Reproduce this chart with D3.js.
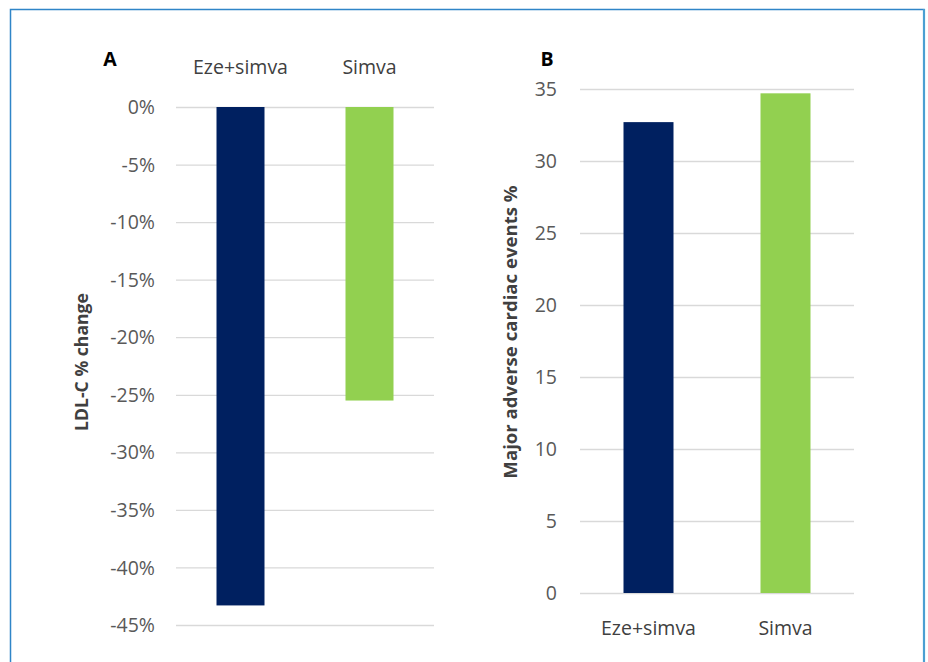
<!DOCTYPE html>
<html>
<head>
<meta charset="utf-8">
<script src="https://cdn.jsdelivr.net/npm/d3@7"></script>
<style>
  html, body { margin: 0; padding: 0; background: #fff; }
  svg text { font-family: "Open Sans", "Lato", sans-serif; }
</style>
</head>
<body>
<svg id="chart" width="928" height="662"></svg>
<script>
// Treatment groups
const categories = ["Eze+simva", "Simva"];
const barColors = ["#002060", "#92D050"];

// Panel A: LDL-C percent change from baseline
const ldlChange = [-43.3, -25.5];
const ldlTicks = [0, -5, -10, -15, -20, -25, -30, -35, -40, -45];

// Panel B: major adverse cardiac events (%)
const maceRate = [32.7, 34.7];
const maceTicks = [0, 5, 10, 15, 20, 25, 30, 35];

const svg = d3.select("#chart");
const textColor = "#595959";
const titleColor = "#404040";
const gridColor = "#d9d9d9";
const tickSize = 19.5;
const catSize = 19.5;

// frame around both panels
svg.append("path")
  .attr("d", "M10.5,662 V9.5 H924 V662")
  .attr("fill", "none")
  .attr("stroke", "#2f85c8")
  .attr("stroke-width", 1.5);
svg.append("line")
  .attr("x1", 924).attr("x2", 924).attr("y1", 9).attr("y2", 662)
  .attr("stroke", "#4a9fd2").attr("stroke-width", 2.2);

// ---------- Panel A ----------
const xA = d3.scaleBand().domain(categories).range([176, 434]);
const yA = d3.scaleLinear().domain([-45, 0]).range([625, 107]);
const barWA = 48;

const gA = svg.append("g");
gA.append("g")
  .attr("transform", "translate(176,0)")
  .call(d3.axisLeft(yA).tickValues(ldlTicks)
    .tickSize(-258).tickPadding(21)
    .tickFormat(d => d + "%"))
  .call(g => g.select(".domain").remove())
  .call(g => g.selectAll(".tick line").attr("stroke", gridColor).attr("stroke-width", 1.3))
  .call(g => g.selectAll(".tick text")
    .attr("fill", textColor).attr("font-size", tickSize).attr("dy", "0.34em"));

gA.selectAll("rect.bar")
  .data(categories)
  .join("rect")
  .attr("class", "bar")
  .attr("x", d => xA(d) + xA.bandwidth() / 2 - barWA / 2)
  .attr("width", barWA)
  .attr("y", (d, i) => yA(0))
  .attr("height", (d, i) => yA(ldlChange[i]) - yA(0))
  .attr("fill", (d, i) => barColors[i]);

gA.selectAll("text.cat")
  .data(categories)
  .join("text")
  .attr("class", "cat")
  .attr("x", d => xA(d) + xA.bandwidth() / 2)
  .attr("y", 74)
  .attr("text-anchor", "middle")
  .attr("fill", titleColor)
  .attr("font-size", catSize)
  .text(d => d);

gA.append("text")
  .attr("x", 110).attr("y", 66)
  .attr("text-anchor", "middle")
  .attr("font-weight", "bold").attr("font-size", 19.5)
  .attr("fill", "#000")
  .text("A");

gA.append("text")
  .attr("transform", "translate(88,362) rotate(-90)")
  .attr("text-anchor", "middle")
  .attr("font-weight", "bold").attr("font-size", 17.6)
  .attr("fill", titleColor)
  .text("LDL-C % change");

// ---------- Panel B ----------
const xB = d3.scaleBand().domain(categories).range([580, 854]);
const yB = d3.scaleLinear().domain([0, 35]).range([593, 89]);
const barWB = 50;

const gB = svg.append("g");
gB.append("g")
  .attr("transform", "translate(580,0)")
  .call(d3.axisLeft(yB).tickValues(maceTicks)
    .tickSize(-274).tickPadding(23)
    .tickFormat(d3.format("d")))
  .call(g => g.select(".domain").remove())
  .call(g => g.selectAll(".tick line").attr("stroke", gridColor).attr("stroke-width", 1.3))
  .call(g => g.selectAll(".tick text")
    .attr("fill", textColor).attr("font-size", tickSize).attr("dy", "0.34em"));

gB.selectAll("rect.bar")
  .data(categories)
  .join("rect")
  .attr("class", "bar")
  .attr("x", d => xB(d) + xB.bandwidth() / 2 - barWB / 2)
  .attr("width", barWB)
  .attr("y", (d, i) => yB(maceRate[i]))
  .attr("height", (d, i) => yB(0) - yB(maceRate[i]))
  .attr("fill", (d, i) => barColors[i]);

gB.selectAll("text.cat")
  .data(categories)
  .join("text")
  .attr("class", "cat")
  .attr("x", d => xB(d) + xB.bandwidth() / 2)
  .attr("y", 635)
  .attr("text-anchor", "middle")
  .attr("fill", titleColor)
  .attr("font-size", catSize)
  .text(d => d);

gB.append("text")
  .attr("x", 547).attr("y", 66)
  .attr("text-anchor", "middle")
  .attr("font-weight", "bold").attr("font-size", 19.5)
  .attr("fill", "#000")
  .text("B");

gB.append("text")
  .attr("transform", "translate(517,332) rotate(-90)")
  .attr("text-anchor", "middle")
  .attr("font-weight", "bold").attr("font-size", 18.6)
  .attr("fill", titleColor)
  .text("Major adverse cardiac events %");
</script>
</body>
</html>
